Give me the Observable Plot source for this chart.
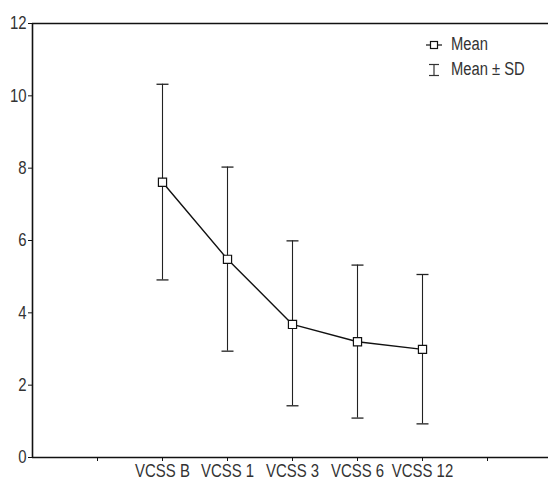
<!DOCTYPE html>
<html>
<head>
<meta charset="utf-8">
<script src="https://cdn.jsdelivr.net/npm/d3@7"></script>
<script src="https://cdn.jsdelivr.net/npm/@observablehq/plot@0.6"></script>
<style>
  body { margin: 0; background: white; }
  #wrap { position: relative; width: 548px; height: 482px; font-family: "Liberation Sans", Arial, sans-serif; }
  #legend { position: absolute; left: 424px; top: 32px; font-size: 18px; color: #333; line-height: 25px; }
  #legend div { display: flex; align-items: center; white-space: nowrap; }
  #legend svg { margin-right: 7px; }
  #legend span { display: inline-block; transform: scaleX(0.82); transform-origin: left center; }
</style>
</head>
<body>
<div id="wrap">
  <div id="chart"></div>
  <div id="legend">
    <div><svg width="20" height="14"><line x1="2" x2="18" y1="7" y2="7" stroke="#111" stroke-width="1.2"/><rect x="6.5" y="3.5" width="7" height="7" fill="white" stroke="#111" stroke-width="1.2"/></svg><span>Mean</span></div>
    <div><svg width="20" height="14"><line x1="10" x2="10" y1="1.5" y2="12.5" stroke="#333" stroke-width="1.2"/><line x1="5" x2="15" y1="1.5" y2="1.5" stroke="#333" stroke-width="1.2"/><line x1="5" x2="15" y1="12.5" y2="12.5" stroke="#333" stroke-width="1.2"/></svg><span>Mean ± SD</span></div>
  </div>
</div>
<script>
const categories = ["VCSS B", "VCSS 1", "VCSS 3", "VCSS 6", "VCSS 12"];
const means = [7.61, 5.48, 3.68, 3.20, 2.99];
const upper = [10.32, 8.03, 5.99, 5.32, 5.06];
const lower = [4.91, 2.94, 1.43, 1.09, 0.93];
const yTicks = [0, 2, 4, 6, 8, 10, 12];

// two empty slots on each side of the five categories
const data = categories.map((c, i) => ({cat: c, pos: i + 2, mean: means[i], hi: upper[i], lo: lower[i]}));
const slotTicks = d3.range(1, 8);

const capSymbol = {
  draw(context, size) {
    const r = Math.sqrt(size / Math.PI);
    context.moveTo(-r, 0);
    context.lineTo(r, 0);
  }
};

const chart = Plot.plot({
  width: 548,
  height: 482,
  marginLeft: 32,
  marginRight: 0,
  marginTop: 23,
  marginBottom: 25,
  style: {fontFamily: '"Liberation Sans", Arial, sans-serif', fontSize: "18px", color: "#333", background: "white", overflow: "visible"},
  x: {domain: [0, 8], range: [32, 552]},
  y: {domain: [0, 12]},
  marks: [
    Plot.ruleX(data, {x: "pos", y1: "lo", y2: "hi", stroke: "#222", strokeWidth: 1.1}),
    Plot.dot(data, {x: "pos", y: "hi", symbol: capSymbol, r: 6, stroke: "#222", strokeWidth: 1.3, fill: "none"}),
    Plot.dot(data, {x: "pos", y: "lo", symbol: capSymbol, r: 6, stroke: "#222", strokeWidth: 1.3, fill: "none"}),
    Plot.line(data, {x: "pos", y: "mean", stroke: "#111", strokeWidth: 1.4}),
    Plot.dot(data, {x: "pos", y: "mean", symbol: "square", r: 4.6, fill: "white", stroke: "#111", strokeWidth: 1.2}),
    Plot.ruleY([12], {stroke: "#111", strokeWidth: 1.6}),
    Plot.ruleY([0], {stroke: "#111", strokeWidth: 1.6}),
    Plot.ruleX([0], {stroke: "#111", strokeWidth: 1.6}),
    Plot.axisY({ticks: yTicks, tickSize: 4, tickPadding: 2, label: null, stroke: "#111", fill: "#333"}),
    Plot.axisX({ticks: slotTicks, tickSize: 4, tickPadding: 3, label: null, stroke: "#111", fill: "#333",
      tickFormat: d => categories[d - 2] ?? ""})
  ]
});
// condense the tick labels horizontally (narrow typeface look)
chart.querySelectorAll('g[aria-label$="tick label"] text').forEach(t => {
  const tr = t.getAttribute("transform");
  if (tr) t.setAttribute("transform", tr + " scale(0.83,1)");
});
document.getElementById("chart").appendChild(chart);
</script>
</body>
</html>
